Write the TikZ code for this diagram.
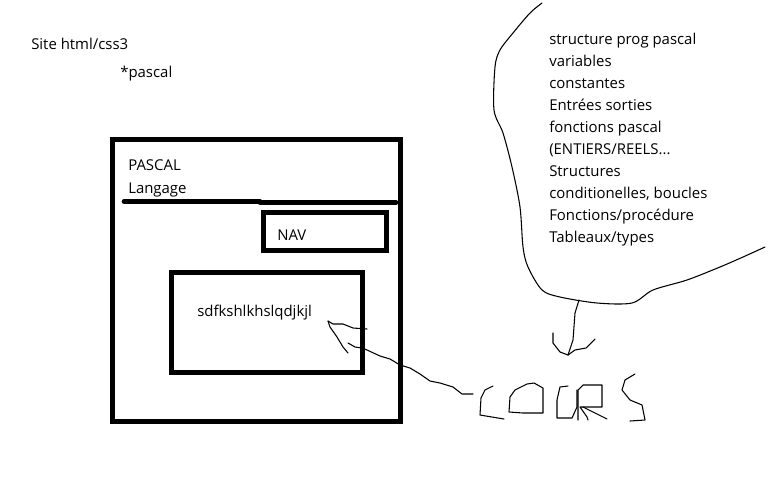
\documentclass[tikz,border=0pt]{standalone}
\usepackage{fontspec}
\setmainfont{Open Sans}
\begin{document}
\begin{tikzpicture}[x=0.75pt,y=-0.75pt,
	caixa/.style={line width=3.6pt},
	barra/.style={line width=3.4pt, line cap=round},
	traco/.style={line width=0.8pt, line join=round, line cap=round},
	texto/.style={anchor=base west, inner sep=0pt, font=\fontsize{11.2}{13}\selectfont}]
					\useasboundingbox (0,0) rectangle (771,486);
					
					% Títulos
					\node[texto] (site) at (31,49) {Site html/css3};
					\node[texto] (pascal) at (120,77) {*pascal};
					
					% Página
					\draw[caixa] (112.5,139.5) rectangle (400.5,421.5);
					\node[texto] (titre) at (128,170) {PASCAL};
					\node[texto] (langage) at (128,193) {Langage};
					\draw[barra] (124,201.5) -- (260,201.5);
					\draw[barra] (260,202.5) -- (396,202.5);
					
					% Menu
					\draw[caixa] (263.5,212.5) rectangle (386.5,250.5);
					\node[texto] (nav) at (277,240) {NAV};
					
					% Conteúdo
					\draw[caixa] (171.5,272.5) rectangle (362.5,372.5);
					\node[texto] (contenu) at (197,316) {sdfkshlkhslqdjkjl};
					
					% Lista do curso
					\foreach \t [count=\i from 0] in {{structure prog pascal}, {variables}, {constantes}, {Entrées sorties}, {fonctions pascal}, {(ENTIERS/REELS.{}.{}.}, {Structures}, {conditionelles, boucles}, {Fonctions/procédure}, {Tableaux/types}}{
						\node[texto] (l\i) at (549,44+22*\i) {\t};
					}
					
					% Balão
					\draw[traco] plot[smooth] coordinates {(542,3) (530,13) (513,33) (500,50) (495,67) (494,110) (503,133) (512,167) (520,207) (523,247) (528,267) (542,290) (560,297) (597,303) (632,303) (653,290) (687,280) (720,267) (743,257) (765,247)};
					
					% Seta para baixo
					\coordinate (baixo) at (568,355);
					\draw[traco] (579,300) -- (575,313) -- (573,340) -- (baixo);
					\draw[traco] (553,333) -- (553,343) -- (560,352) -- (baixo);
					\draw[traco] (595,339) -- (586,348) -- (575,350) -- (baixo);
					
					% COURS
					\draw[traco] (493,386) -- (485,390) -- (481,398) -- (480,415) -- (492,417) -- (504,419);
					\draw[traco] (527,384) -- (534,383) -- (543,388) -- (543,413) -- (523,413) -- (509,412) -- (510,397) -- (515,390) -- cycle;
					\draw[traco] (568,386) -- (560,387) -- (557,400) -- (557,418) -- (572,418) -- (577,407) -- (577,390);
					\draw[traco] (578,420) -- (578,390) -- (583,385) -- (602,385) -- (602,407) -- (580,407) -- (587,417) -- (588,420);
					\draw[traco] (583,407) -- (607,419);
					\draw[traco] (635,374) -- (625,380) -- (622,390) -- (630,400) -- (642,405) -- (645,420) -- (630,421);
					
					% Seta para o conteúdo
					\coordinate (ponta) at (328,321);
					\draw[traco] (473,394) -- (462,394) -- (453,387) -- (440,383) -- (430,381) -- (420,374) -- (410,368) -- (400,365) -- (390,359) -- (380,356) -- (367,350) -- (362,348) -- (355,347) -- (348,343);
					\draw[traco] (367,329) -- (353,328) -- (343,324) -- (333,324) -- (ponta);
					\draw[traco] (348,353) -- (343,347) -- (337,337) -- (330,327) -- (ponta);
				\end{tikzpicture}
\end{document}
